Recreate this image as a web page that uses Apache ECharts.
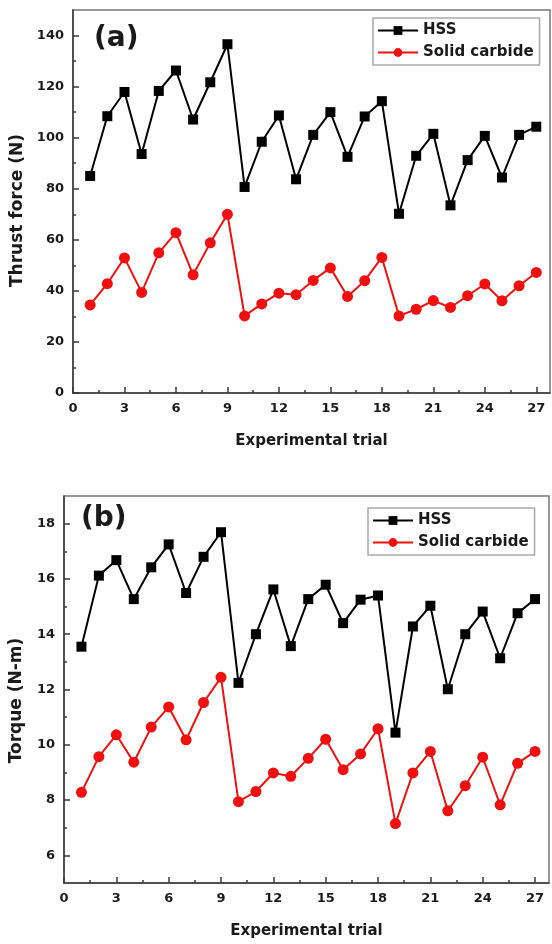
<!DOCTYPE html>
<html>
<head>
<meta charset="utf-8">
<script src="https://cdn.jsdelivr.net/npm/echarts@6/dist/echarts.min.js"></script>
<style>
  html, body { margin: 0; padding: 0; background: #fff; }
  #chart { width: 552px; height: 944px; }
</style>
</head>
<body>
<div id="chart"></div>
<script>
// experimental trials
var trials = [1, 2, 3, 4, 5, 6, 7, 8, 9, 10, 11, 12, 13, 14, 15, 16, 17, 18, 19, 20, 21, 22, 23, 24, 25, 26, 27]

// (a) thrust force (N)
var hssThrust = [85.0, 108.4, 117.9, 93.6, 118.3, 126.3, 107.1, 121.7, 136.6, 80.7, 98.4, 108.7, 83.7, 101.1, 110.0, 92.5, 108.3, 114.3, 70.2, 92.9, 101.5, 73.5, 91.2, 100.7, 84.4, 101.1, 104.3]
var carbideThrust = [34.5, 42.8, 52.9, 39.4, 54.9, 62.8, 46.3, 58.8, 70.0, 30.2, 34.9, 39.1, 38.5, 44.1, 49.0, 37.8, 44.0, 53.1, 30.2, 32.8, 36.2, 33.5, 38.1, 42.7, 36.1, 42.0, 47.2]

// (b) torque (N-m)
var hssTorque = [13.55, 16.12, 16.68, 15.27, 16.42, 17.25, 15.49, 16.80, 17.69, 12.24, 14.00, 15.62, 13.57, 15.27, 15.79, 14.40, 15.25, 15.40, 10.44, 14.28, 15.03, 12.01, 14.00, 14.82, 13.13, 14.76, 15.27]
var carbideTorque = [8.28, 9.57, 10.36, 9.37, 10.64, 11.37, 10.18, 11.53, 12.44, 7.94, 8.31, 8.98, 8.86, 9.51, 10.20, 9.10, 9.67, 10.58, 7.15, 8.98, 9.76, 7.61, 8.52, 9.55, 7.83, 9.33, 9.76]

// tick labels
var xTicks = [0, 3, 6, 9, 12, 15, 18, 21, 24, 27]
var xMinorTicks = [1.5, 4.5, 7.5, 10.5, 13.5, 16.5, 19.5, 22.5, 25.5]
var thrustTicks = [0, 20, 40, 60, 80, 100, 120, 140]
var thrustMinorTicks = [10, 30, 50, 70, 90, 110, 130]
var torqueTicks = [6, 8, 10, 12, 14, 16, 18]
var torqueMinorTicks = [7, 9, 11, 13, 15, 17]

var FONT = 'DejaVu Sans'
var TXT = '#1a1a1a'
var LINE = '#3a3a3a'

function pairs(ys) {
  return trials.map(function (t, i) { return [t, ys[i]] })
}

function mainAxis(opt) {
  return Object.assign({
    type: 'value',
    axisLine: { show: true, onZero: false, lineStyle: { color: LINE, width: 1.5 } },
    splitLine: { show: false },
    nameTextStyle: { color: TXT, fontFamily: FONT, fontWeight: 'bold', fontSize: 15 }
  }, opt)
}

function labels(ticks) {
  return { color: TXT, fontFamily: FONT, fontWeight: 'bold', fontSize: 13, margin: 9, customValues: ticks }
}

function majorTicks(ticks) {
  return { inside: true, length: 6, customValues: ticks, lineStyle: { color: LINE, width: 1.5 } }
}

// overlay axis that only carries the short minor ticks
function minorAxis(opt, ticks) {
  return Object.assign({
    type: 'value',
    axisLine: { show: false, onZero: false },
    splitLine: { show: false },
    axisLabel: { show: false },
    axisTick: { inside: true, length: 3, customValues: ticks, lineStyle: { color: LINE, width: 1.5 } }
  }, opt)
}

function legendAt(left, top) {
  return {
    orient: 'vertical', left: left, top: top, itemWidth: 40, itemHeight: 11, itemGap: 7,
    padding: [5, 6, 5, 4], borderColor: '#aaa', borderWidth: 1.5, backgroundColor: '#fff',
    textStyle: { color: TXT, fontFamily: FONT, fontWeight: 'bold', fontSize: 15 },
    data: ['HSS', 'Solid carbide']
  }
}

var chart = echarts.init(document.getElementById('chart'))

chart.setOption({
  animation: false,
  backgroundColor: '#fff',
  grid: [
    { left: 73, top: 10, width: 477, height: 383, show: true, borderColor: '#777', borderWidth: 1.5 },
    { left: 63, top: 496, width: 486, height: 387, show: true, borderColor: '#777', borderWidth: 1.5 }
  ],
  xAxis: [
    mainAxis({
      gridIndex: 0, position: 'bottom', min: 0, max: 27.8,
      name: 'Experimental trial', nameLocation: 'middle', nameGap: 41,
      axisLabel: labels(xTicks), axisTick: majorTicks(xTicks)
    }),
    minorAxis({ gridIndex: 0, position: 'bottom', min: 0, max: 27.8 }, xMinorTicks),
    mainAxis({
      gridIndex: 1, position: 'bottom', min: 0, max: 27.8,
      name: 'Experimental trial', nameLocation: 'middle', nameGap: 41,
      axisLabel: labels(xTicks), axisTick: majorTicks(xTicks)
    }),
    minorAxis({ gridIndex: 1, position: 'bottom', min: 0, max: 27.8 }, xMinorTicks)
  ],
  yAxis: [
    mainAxis({
      gridIndex: 0, position: 'left', min: 0, max: 150,
      name: 'Thrust force (N)', nameLocation: 'middle', nameGap: 46,
      nameTextStyle: { color: TXT, fontFamily: FONT, fontWeight: 'bold', fontSize: 17, padding: [0, 18, 0, 0] },
      axisLabel: labels(thrustTicks), axisTick: majorTicks(thrustTicks)
    }),
    minorAxis({ gridIndex: 0, position: 'left', min: 0, max: 150 }, thrustMinorTicks),
    mainAxis({
      gridIndex: 1, position: 'left', min: 5, max: 19,
      name: 'Torque (N-m)', nameLocation: 'middle', nameGap: 39,
      nameTextStyle: { color: TXT, fontFamily: FONT, fontWeight: 'bold', fontSize: 17, padding: [0, 22, 0, 0] },
      axisLabel: labels(torqueTicks), axisTick: majorTicks(torqueTicks)
    }),
    minorAxis({ gridIndex: 1, position: 'left', min: 5, max: 19 }, torqueMinorTicks)
  ],
  legend: [legendAt(373, 18), legendAt(368, 508)],
  graphic: [
    { type: 'text', left: 94, top: 25, style: { text: '(a)', fill: TXT, font: 'bold 28px "DejaVu Sans"' } },
    { type: 'text', left: 81, top: 505, style: { text: '(b)', fill: TXT, font: 'bold 28px "DejaVu Sans"' } }
  ],
  series: [
    {
      name: 'HSS', type: 'line', xAxisIndex: 0, yAxisIndex: 0, data: pairs(hssThrust),
      symbol: 'rect', symbolSize: 10, itemStyle: { color: '#000' }, lineStyle: { color: '#000', width: 2 }
    },
    {
      name: 'Solid carbide', type: 'line', xAxisIndex: 0, yAxisIndex: 0, data: pairs(carbideThrust),
      symbol: 'circle', symbolSize: 11, itemStyle: { color: '#f01010' }, lineStyle: { color: '#f01010', width: 2 }
    },
    {
      name: 'HSS', type: 'line', xAxisIndex: 2, yAxisIndex: 2, data: pairs(hssTorque),
      symbol: 'rect', symbolSize: 10, itemStyle: { color: '#000' }, lineStyle: { color: '#000', width: 2 }
    },
    {
      name: 'Solid carbide', type: 'line', xAxisIndex: 2, yAxisIndex: 2, data: pairs(carbideTorque),
      symbol: 'circle', symbolSize: 11, itemStyle: { color: '#f01010' }, lineStyle: { color: '#f01010', width: 2 }
    }
  ]
})
</script>
</body>
</html>
